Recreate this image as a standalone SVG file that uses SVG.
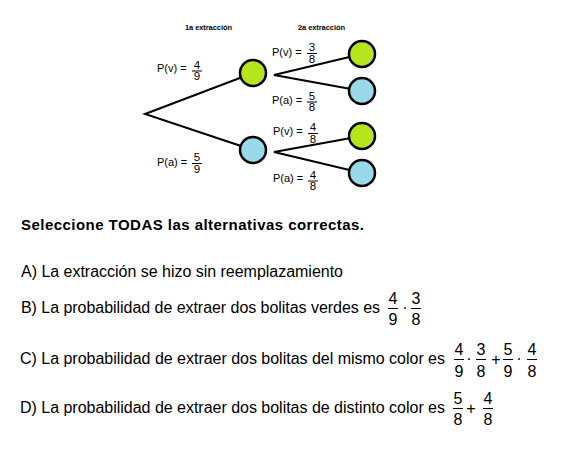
<svg xmlns="http://www.w3.org/2000/svg" width="568" height="461" viewBox="0 0 568 461">
<style>
text{font-family:"Liberation Sans",Arial,sans-serif;fill:#000}
.hd{font-size:7.5px;font-weight:bold}
.lb{font-size:11px}
.fr{font-size:11.5px;text-anchor:middle}
.bd{font-size:16px}
.bf{font-size:16px;text-anchor:middle}
.tt{font-size:15px;font-weight:bold}
.edge{stroke:#000;stroke-width:2;fill:none}
.bar{stroke:#000;stroke-width:1}
.g{fill:#B5E61D;stroke:#000;stroke-width:2.5}
.b{fill:#99D9EA;stroke:#000;stroke-width:2.5}
</style>
<rect width="568" height="461" fill="#fff"/>
<text class="hd" x="185" y="30" textLength="47">1a extracción</text>
<text class="hd" x="298" y="30" textLength="47">2a extracción</text>
<g id="connectors">
<polyline class="edge" points="253,73 145,114 253,150"/>
<polyline class="edge" points="362,54 274,75 362,91"/>
<polyline class="edge" points="362,136 274,152 362,173"/>
</g>
<g id="n1"><circle class="g" cx="253" cy="73" r="13"/></g>
<g id="n2"><circle class="b" cx="253" cy="150" r="13"/></g>
<g id="n3"><circle class="g" cx="362" cy="54" r="13"/></g>
<g id="n4"><circle class="b" cx="362" cy="91" r="13"/></g>
<g id="n5"><circle class="g" cx="362" cy="136" r="13"/></g>
<g id="n6"><circle class="b" cx="362" cy="173" r="13"/></g>
<g id="l1"><text class="lb" x="157" y="72">P(v) =</text><text class="fr" x="197" y="68.5">4</text><line class="bar" x1="192" y1="71" x2="202" y2="71"/><text class="fr" x="197" y="80">9</text></g>
<g id="l2"><text class="lb" x="157" y="166">P(a) =</text><text class="fr" x="197" y="161">5</text><line class="bar" x1="192" y1="163.5" x2="202" y2="163.5"/><text class="fr" x="197" y="172.5">9</text></g>
<g id="l3"><text class="lb" x="272" y="56">P(v) =</text><text class="fr" x="312" y="51">3</text><line class="bar" x1="307" y1="53.5" x2="317" y2="53.5"/><text class="fr" x="312" y="62.5">8</text></g>
<g id="l4"><text class="lb" x="272" y="104">P(a) =</text><text class="fr" x="312" y="99.5">5</text><line class="bar" x1="307" y1="102" x2="317" y2="102"/><text class="fr" x="312" y="111">8</text></g>
<g id="l5"><text class="lb" x="273" y="135">P(v) =</text><text class="fr" x="313" y="131">4</text><line class="bar" x1="308" y1="133.5" x2="318" y2="133.5"/><text class="fr" x="313" y="143">8</text></g>
<g id="l6"><text class="lb" x="273" y="182">P(a) =</text><text class="fr" x="313" y="178.5">4</text><line class="bar" x1="308" y1="181" x2="318" y2="181"/><text class="fr" x="313" y="190">8</text></g>
<text class="tt" x="21" y="230" textLength="343">Seleccione TODAS las alternativas correctas.</text>
<text class="bd" x="21" y="277" textLength="322">A) La extracción se hizo sin reemplazamiento</text>
<text class="bd" x="21" y="312.5" textLength="359">B) La probabilidad de extraer dos bolitas verdes es</text>
<text class="bf" x="393" y="303.7">4</text><line class="bar" x1="388" y1="308.5" x2="398" y2="308.5"/><text class="bf" x="393" y="324.7">9</text>
<text class="bf" x="405" y="313">·</text>
<text class="bf" x="416" y="303.7">3</text><line class="bar" x1="411" y1="308.5" x2="421" y2="308.5"/><text class="bf" x="416" y="324.7">8</text>
<text class="bd" x="20" y="363.5" textLength="425">C) La probabilidad de extraer dos bolitas del mismo color es</text>
<text class="bf" x="459" y="354.7">4</text><line class="bar" x1="454" y1="359.5" x2="464" y2="359.5"/><text class="bf" x="459" y="376.7">9</text>
<text class="bf" x="469" y="364">·</text>
<text class="bf" x="481" y="354.7">3</text><line class="bar" x1="476" y1="359.5" x2="486" y2="359.5"/><text class="bf" x="481" y="376.7">8</text>
<text class="bf" x="496" y="365">+</text>
<text class="bf" x="508" y="354.7">5</text><line class="bar" x1="503" y1="359.5" x2="513" y2="359.5"/><text class="bf" x="508" y="376.7">9</text>
<text class="bf" x="519" y="364">·</text>
<text class="bf" x="532" y="354.7">4</text><line class="bar" x1="527" y1="359.5" x2="537" y2="359.5"/><text class="bf" x="532" y="376.7">8</text>
<text class="bd" x="20" y="413" textLength="425">D) La probabilidad de extraer dos bolitas de distinto color es</text>
<text class="bf" x="458" y="403.7">5</text><line class="bar" x1="453" y1="408.5" x2="463" y2="408.5"/><text class="bf" x="458" y="424.7">8</text>
<text class="bf" x="471" y="414">+</text>
<text class="bf" x="488" y="403.7">4</text><line class="bar" x1="483" y1="408.5" x2="493" y2="408.5"/><text class="bf" x="488" y="424.7">8</text>
</svg>
